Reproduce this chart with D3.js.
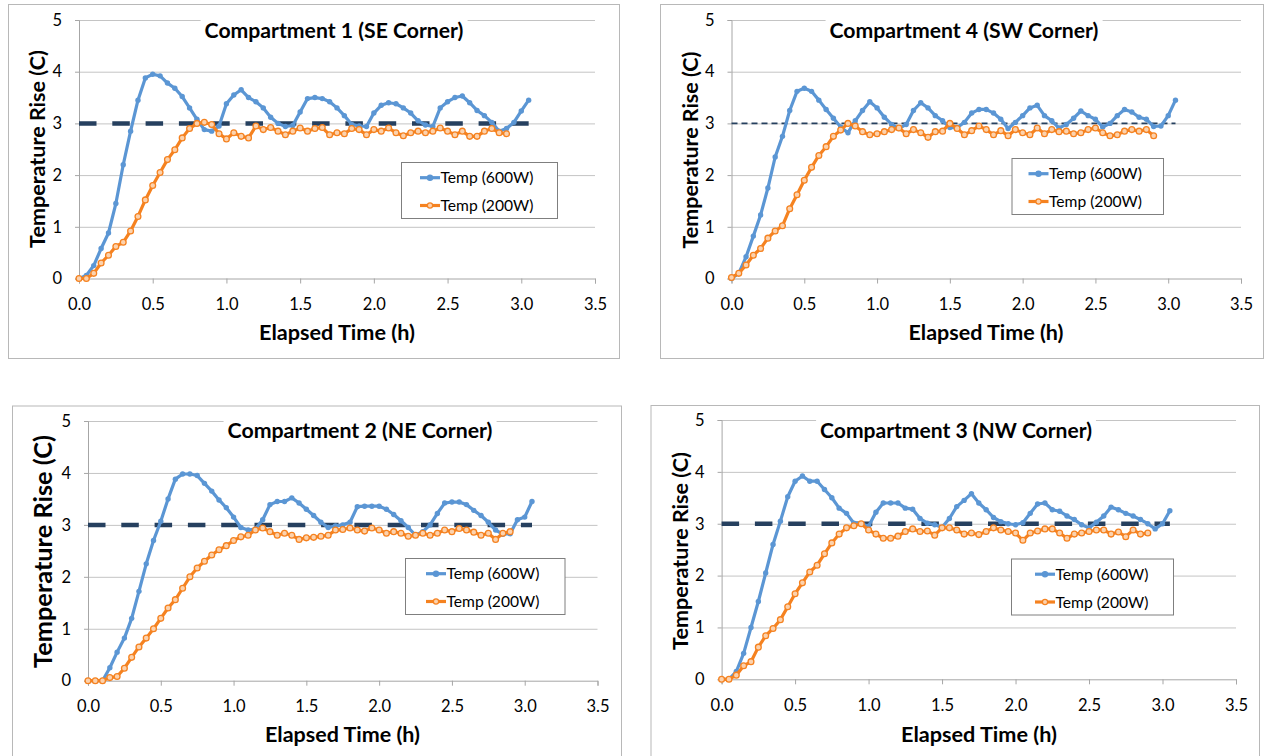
<!DOCTYPE html>
<html>
<head>
<meta charset="utf-8">
<script src="https://cdn.jsdelivr.net/npm/d3@7"></script>
<style>
  body { margin: 0; background: #fff; }
  svg text { font-family: Lato, "Open Sans", sans-serif; fill: #000; }
</style>
</head>
<body>
<svg id="chart" width="1264" height="756"></svg>
<script>
// elapsed time (h) of each reading
var hours = [0, 0.05, 0.1, 0.15, 0.2, 0.25, 0.3, 0.35, 0.4, 0.45, 0.5, 0.55, 0.6, 0.65, 0.7, 0.75,
  0.8, 0.85, 0.9, 0.95, 1.0, 1.05, 1.1, 1.15, 1.2, 1.25, 1.3, 1.35, 1.4, 1.45, 1.5, 1.55, 1.6,
  1.65, 1.7, 1.75, 1.8, 1.85, 1.9, 1.95, 2.0, 2.05, 2.1, 2.15, 2.2, 2.25, 2.3, 2.35, 2.4, 2.45,
  2.5, 2.55, 2.6, 2.65, 2.7, 2.75, 2.8, 2.85, 2.9, 2.95, 3.0, 3.05];

var xTicks = [0, 0.5, 1.0, 1.5, 2.0, 2.5, 3.0, 3.5];
var yTicks = [0, 1, 2, 3, 4, 5];
var targetHours = [0, 3.05];
var targetRise = [3, 3];
var seriesNames = ["Temp (600W)", "Temp (200W)"];

// temperature rise (C), 600W and 200W runs
var comp1Rise600 = [0,0.06,0.25,0.58,0.88,1.45,2.2,2.85,3.45,3.88,3.95,3.92,3.78,3.68,3.52,3.3,3.08,2.88,2.85,2.95,
  3.38,3.55,3.65,3.5,3.42,3.3,3.12,3.0,2.94,2.96,3.22,3.48,3.5,3.48,3.42,3.3,3.15,2.98,2.95,2.94,
  3.2,3.35,3.4,3.38,3.3,3.2,3.05,2.97,2.94,3.3,3.42,3.5,3.53,3.4,3.25,3.15,3.02,2.85,2.9,3.02,3.24,3.45];
var comp1Rise200 = [0,0,0.1,0.3,0.45,0.62,0.7,0.92,1.2,1.52,1.8,2.05,2.3,2.49,2.72,2.9,3.0,3.02,2.98,2.8,
  2.7,2.82,2.75,2.72,2.95,2.88,2.92,2.85,2.78,2.85,2.91,2.85,2.9,2.92,2.78,2.82,2.8,2.9,2.88,2.78,
  2.88,2.85,2.91,2.82,2.76,2.82,2.85,2.82,2.85,2.91,2.85,2.78,2.85,2.75,2.75,2.85,2.9,2.82,2.8];

var comp4Rise600 = [0,0.1,0.42,0.82,1.23,1.75,2.35,2.75,3.25,3.62,3.68,3.62,3.45,3.27,3.1,2.93,2.82,3.05,3.25,3.42,
  3.3,3.12,2.98,2.9,2.98,3.25,3.4,3.3,3.15,3.05,2.92,2.92,3.02,3.2,3.27,3.27,3.2,3.08,2.9,3.02,
  3.15,3.3,3.35,3.15,3.05,2.91,2.98,3.1,3.24,3.15,3.08,2.93,3.0,3.15,3.27,3.22,3.12,3.08,2.94,2.95,3.15,3.45];
var comp4Rise200 = [0.02,0.1,0.26,0.45,0.58,0.78,0.92,1.02,1.35,1.62,1.9,2.15,2.38,2.55,2.75,2.87,3.0,2.95,2.84,2.78,
  2.8,2.84,2.88,2.91,2.8,2.88,2.82,2.73,2.84,2.85,3.0,2.9,2.78,2.86,2.95,2.88,2.78,2.86,2.76,2.88,
  2.82,2.78,2.91,2.8,2.88,2.84,2.85,2.8,2.82,2.88,2.91,2.82,2.76,2.78,2.85,2.88,2.85,2.88,2.76];

var comp2Rise600 = [0,0,0,0.25,0.55,0.82,1.2,1.72,2.25,2.7,3.07,3.5,3.88,3.98,3.98,3.95,3.8,3.65,3.48,3.33,
  3.15,2.95,2.9,2.92,3.1,3.39,3.45,3.45,3.52,3.42,3.3,3.18,3.05,2.95,2.98,3.0,3.05,3.35,3.36,3.36,
  3.36,3.3,3.2,3.08,2.95,2.8,2.87,3.0,3.22,3.42,3.44,3.44,3.39,3.28,3.18,3.05,2.9,2.82,2.83,3.1,3.15,3.45];
var comp2Rise200 = [0,0,0,0.06,0.08,0.24,0.45,0.65,0.82,1.0,1.2,1.4,1.56,1.78,2.0,2.17,2.3,2.42,2.52,2.6,
  2.7,2.77,2.8,2.9,2.94,2.87,2.8,2.84,2.8,2.72,2.75,2.76,2.78,2.8,2.9,2.91,2.94,2.9,2.88,2.94,
  2.9,2.84,2.87,2.84,2.78,2.8,2.84,2.8,2.84,2.9,2.87,2.93,2.9,2.86,2.8,2.84,2.72,2.84,2.87];

var comp3Rise600 = [0,0,0.15,0.5,1.0,1.5,2.05,2.6,3.05,3.52,3.82,3.92,3.82,3.82,3.66,3.5,3.3,3.2,3.01,3.0,
  2.95,3.22,3.4,3.4,3.4,3.3,3.28,3.1,3.01,2.98,2.93,3.1,3.33,3.45,3.58,3.4,3.27,3.12,3.04,3.0,
  2.98,3.02,3.2,3.38,3.4,3.27,3.24,3.15,3.08,2.98,2.92,3.03,3.15,3.32,3.27,3.2,3.15,3.08,3.0,2.9,3.0,3.25];
var comp3Rise200 = [0,0,0.08,0.26,0.34,0.62,0.84,0.98,1.15,1.4,1.65,1.86,2.07,2.2,2.42,2.63,2.8,2.92,2.96,3.0,
  2.88,2.8,2.72,2.72,2.76,2.85,2.9,2.85,2.86,2.78,2.92,2.92,2.88,2.8,2.82,2.79,2.85,2.92,2.88,2.85,
  2.82,2.68,2.82,2.86,2.9,2.9,2.82,2.72,2.8,2.82,2.85,2.88,2.88,2.8,2.84,2.75,2.88,2.8,2.82];

var panelTitles = ["Compartment 1 (SE Corner)", "Compartment 4 (SW Corner)",
                   "Compartment 2 (NE Corner)", "Compartment 3 (NW Corner)"];

// layout of the four panels (px)
var panels = [
  { title: panelTitles[0], hi: comp1Rise600, lo: comp1Rise200,
    box: [8, 4, 611, 354], plot: [79, 595, 20, 278.5],
    titleX: 334, titleY: 37.5, titleW: 259,
    yLab: [37.5, 149, 198, 19], xLab: [337, 340, 156],
    legend: [401, 162, 156, 19], thinTarget: false },
  { title: panelTitles[1], hi: comp4Rise600, lo: comp4Rise200,
    box: [660, 4, 603, 354], plot: [731.5, 1241, 20, 278.5],
    titleX: 964, titleY: 37.5, titleW: 269,
    yLab: [690, 150, 197, 19], xLab: [986, 340, 155],
    legend: [1011.5, 158, 151.5, 17], thinTarget: true },
  { title: panelTitles[2], hi: comp2Rise600, lo: comp2Rise200,
    box: [12, 405.5, 609, 360], plot: [88, 597.5, 421, 680.7],
    titleX: 360, titleY: 437.5, titleW: 265,
    yLab: [43.5, 551.5, 233, 23], xLab: [342.5, 741.5, 155],
    legend: [405, 558, 159.5, 21], thinTarget: false },
  { title: panelTitles[3], hi: comp3Rise600, lo: comp3Rise200,
    box: [650.5, 405, 608.5, 360], plot: [721.6, 1236, 420, 679.3],
    titleX: 956, titleY: 437.5, titleW: 272,
    yLab: [680, 551, 198, 19], xLab: [979, 741.5, 156],
    legend: [1011, 558.5, 162, 24], thinTarget: false }
];

var BLUE = "#5b96d4", ORANGE = "#f58220", NAVY = "#26405f", PEACH = "#fcd2ad";

var svg = d3.select("#chart");

function fitWidth(text, target) {
  var w = text.node().getComputedTextLength();
  var fs = parseFloat(text.attr("font-size"));
  text.attr("font-size", fs * target / w);
}

panels.forEach(function (p) {
  var g = svg.append("g");

  g.append("rect")
    .attr("x", p.box[0] + 0.5).attr("y", p.box[1] + 0.5)
    .attr("width", p.box[2]).attr("height", p.box[3])
    .attr("fill", "#fff").attr("stroke", "#b8b8b8").attr("stroke-width", 1);

  var x = d3.scaleLinear().domain([0, 3.5]).range([p.plot[0], p.plot[1]]),
      y = d3.scaleLinear().domain([0, 5]).range([p.plot[3], p.plot[2]]);

  // gridlines
  g.append("g")
    .attr("transform", "translate(" + p.plot[0] + ",0)")
    .call(d3.axisLeft(y).tickValues(yTicks.slice(1)).tickSize(-(p.plot[1] - p.plot[0])).tickFormat(""))
    .call(function (s) { s.select(".domain").remove(); })
    .selectAll("line").attr("stroke", "#c4c4c4").attr("stroke-width", 1);

  // y axis
  var yAxis = g.append("g")
    .attr("transform", "translate(" + p.plot[0] + ",0)")
    .call(d3.axisLeft(y).tickValues(yTicks).tickSize(4).tickPadding(13).tickFormat(d3.format("d")));
  yAxis.select(".domain").attr("stroke", "#a6a6a6");
  yAxis.selectAll("line").attr("stroke", "#a6a6a6");
  yAxis.selectAll("text").attr("font-size", 16.5).attr("fill", "#000").style("font-family", "Lato");

  // x axis
  var xAxis = g.append("g")
    .attr("transform", "translate(0," + p.plot[3] + ")")
    .call(d3.axisBottom(x).tickValues(xTicks).tickSize(5).tickPadding(15).tickFormat(d3.format(".1f")));
  xAxis.select(".domain").attr("stroke", "#a6a6a6");
  xAxis.selectAll("line").attr("stroke", "#a6a6a6");
  xAxis.selectAll("text").attr("font-size", 16.5).attr("fill", "#000").style("font-family", "Lato");

  // title with white backing over the top gridline
  var title = g.append("text")
    .attr("x", p.titleX).attr("y", p.titleY)
    .attr("text-anchor", "middle").attr("font-weight", "bold").attr("font-size", 18)
    .text(p.title);
  fitWidth(title, p.titleW);
  var tb = title.node().getBBox();
  g.insert("rect", function () { return title.node(); })
    .attr("x", tb.x - 4).attr("y", tb.y - 2)
    .attr("width", tb.width + 8).attr("height", tb.height + 2)
    .attr("fill", "#fff");

  // axis titles
  var yl = g.append("text")
    .attr("transform", "translate(" + p.yLab[0] + "," + p.yLab[1] + ") rotate(-90)")
    .attr("text-anchor", "middle").attr("dy", "0.35em")
    .attr("font-weight", "bold").attr("font-size", p.yLab[3])
    .text("Temperature Rise (C)");
  fitWidth(yl, p.yLab[2]);

  var xl = g.append("text")
    .attr("x", p.xLab[0]).attr("y", p.xLab[1])
    .attr("text-anchor", "middle").attr("font-weight", "bold").attr("font-size", 17)
    .text("Elapsed Time (h)");
  fitWidth(xl, p.xLab[2]);

  // 3 C target line
  var target = targetHours.map(function (h, i) { return [h, targetRise[i]]; });
  g.append("path")
    .attr("d", d3.line().x(function (d) { return x(d[0]); }).y(function (d) { return y(d[1]); })(target))
    .attr("fill", "none").attr("stroke", NAVY)
    .attr("stroke-width", p.thinTarget ? 1.8 : 4.5)
    .attr("stroke-dasharray", p.thinTarget ? "6,4" : "17.5,15.8");

  var lineGen = d3.line()
    .x(function (d) { return x(d[0]); })
    .y(function (d) { return y(d[1]); });

  var hiPts = p.hi.map(function (v, i) { return [hours[i], v]; }),
      loPts = p.lo.map(function (v, i) { return [hours[i], v]; });

  g.append("path").attr("d", lineGen(hiPts))
    .attr("fill", "none").attr("stroke", BLUE).attr("stroke-width", 3.2).attr("stroke-linejoin", "round");
  g.append("g").selectAll("circle").data(hiPts).enter().append("circle")
    .attr("cx", function (d) { return x(d[0]); }).attr("cy", function (d) { return y(d[1]); })
    .attr("r", 2.7).attr("fill", BLUE);

  g.append("path").attr("d", lineGen(loPts))
    .attr("fill", "none").attr("stroke", ORANGE).attr("stroke-width", 3.2).attr("stroke-linejoin", "round");
  g.append("g").selectAll("circle").data(loPts).enter().append("circle")
    .attr("cx", function (d) { return x(d[0]); }).attr("cy", function (d) { return y(d[1]); })
    .attr("r", 2.9).attr("fill", PEACH).attr("stroke", ORANGE).attr("stroke-width", 1.3);

  // legend
  var L = p.legend;
  var lg = g.append("g");
  lg.append("rect")
    .attr("x", L[0] + 0.5).attr("y", L[1] + 0.5).attr("width", L[2]).attr("height", 56)
    .attr("fill", "#fff").attr("stroke", "#7f7f7f").attr("stroke-width", 1);
  seriesNames.forEach(function (name, i) {
    var ry = L[1] + 15.7 + i * 27.8,
        x0 = L[0] + L[3], x1 = x0 + 20;
    var col = i === 0 ? BLUE : ORANGE;
    lg.append("line").attr("x1", x0).attr("x2", x1).attr("y1", ry).attr("y2", ry)
      .attr("stroke", col).attr("stroke-width", 3.2);
    lg.append("circle").attr("cx", (x0 + x1) / 2).attr("cy", ry).attr("r", 2.6)
      .attr("fill", i === 0 ? BLUE : PEACH).attr("stroke", col).attr("stroke-width", 1.2);
    var t = lg.append("text").attr("x", x1 + 0.5).attr("y", ry).attr("dy", "0.36em")
      .attr("font-size", 16).text(name);
    fitWidth(t, 93);
  });
});
</script>
</body>
</html>
